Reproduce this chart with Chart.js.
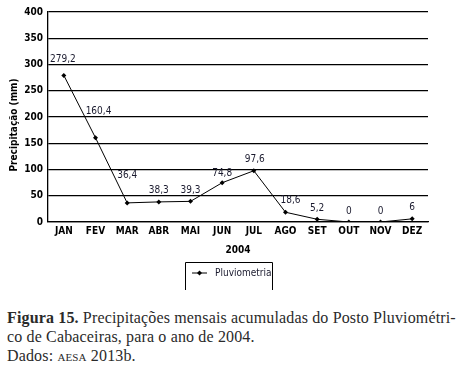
<!DOCTYPE html>
<html><head><meta charset="utf-8">
<script src="https://cdn.jsdelivr.net/npm/chart.js@4"></script>
<style>
html,body{margin:0;padding:0;background:#fff;width:462px;height:370px;overflow:hidden}
#wrap{position:absolute;left:0;top:0;width:462px;height:290px}
.cap{position:absolute;left:7px;font-family:"Liberation Serif","DejaVu Serif",serif;font-size:16px;letter-spacing:0.15px;color:#2a2a2a;white-space:nowrap;line-height:19px}
</style></head><body>
<div id="wrap"><canvas id="c" width="462" height="290"></canvas></div>
<div class="cap" style="top:308px"><b>Figura 15.</b> Precipitações mensais acumuladas do Posto Pluviométri-</div>
<div class="cap" style="top:327px">co de Cabaceiras, para o ano de 2004.</div>
<div class="cap" style="top:346px">Dados: <span style="font-variant:small-caps">aesa</span> 2013b.</div>
<script>
const categories = ["JAN","FEV","MAR","ABR","MAI","JUN","JUL","AGO","SET","OUT","NOV","DEZ"];
const pluviometria = [279.2,160.4,36.4,38.3,39.3,74.8,97.6,18.6,5.2,0,0,6];
const valueLabels = ["279,2","160,4","36,4","38,3","39,3","74,8","97,6","18,6","5,2","0","0","6"];
const seriesName = "Pluviometria";
const xTitle = "2004";
const yTitle = "Precipitação (mm)";

const FONT = '"Liberation Sans Narrow","DejaVu Sans Condensed",sans-serif';
// label layout offsets (dx, dy) relative to each point, to keep labels off the line
const labelShift = [[-1,-16],[3,-26],[0,-27],[0,-11],[0,-11],[0,-9],[1,-11],[5,-12],[0,-11],[0,-11],[0,-11],[0,-11]];

const extras = {
  id:'extras',
  afterDatasetsDraw(chart){
    const ctx = chart.ctx;
    const meta = chart.getDatasetMeta(0);
    ctx.save();
    ctx.fillStyle = '#1a1a2e';
    ctx.font = '10px ' + FONT;
    ctx.textAlign = 'center';
    ctx.textBaseline = 'middle';
    meta.data.forEach((p,i)=>{
      ctx.fillText(valueLabels[i], p.x + labelShift[i][0], p.y + labelShift[i][1]);
    });
    // x title
    ctx.fillStyle = '#000';
    ctx.font = 'bold 10px ' + FONT;
    ctx.fillText(xTitle, (chart.chartArea.left + chart.chartArea.right)/2, 250);
    // y title
    ctx.save();
    ctx.translate(14, 125);
    ctx.rotate(-Math.PI/2);
    ctx.font = 'bold 10px ' + FONT;
    ctx.fillText(yTitle, 0, 0);
    ctx.restore();
    // legend box (bottom edge cropped in reference)
    ctx.strokeStyle = '#000';
    ctx.lineWidth = 1;
    ctx.beginPath();
    ctx.moveTo(185.5, 292); ctx.lineTo(185.5, 262.5); ctx.lineTo(272.5, 262.5); ctx.lineTo(272.5, 292);
    ctx.stroke();
    ctx.beginPath();
    ctx.moveTo(192, 273); ctx.lineTo(207, 273); ctx.stroke();
    ctx.beginPath();
    ctx.moveTo(199.5, 270.5); ctx.lineTo(202, 273); ctx.lineTo(199.5, 275.5); ctx.lineTo(197, 273); ctx.closePath();
    ctx.fillStyle = '#000'; ctx.fill();
    ctx.fillStyle = '#1a1a2e';
    ctx.font = '10px ' + FONT;
    ctx.textAlign = 'left';
    ctx.fillText(seriesName, 215, 273);
    ctx.restore();
  }
};

new Chart(document.getElementById('c'), {
  type:'line',
  data:{labels:categories, datasets:[{
    label:seriesName, data:pluviometria,
    borderColor:'#000', borderWidth:1, backgroundColor:'#000',
    pointStyle:'rectRot', pointRadius:2.5, pointBorderWidth:0, tension:0
  }]},
  options:{
    responsive:false, animation:false,
    layout:{padding:{top:12,right:34,left:0,bottom:0}},
    plugins:{legend:{display:false}, tooltip:{enabled:false}},
    scales:{
      x:{
        offset:true,
        grid:{display:false, drawTicks:false},
        border:{color:'#000', width:1.3},
        ticks:{color:'#000', font:{family:FONT, size:10, weight:'bold'}, padding:3, maxRotation:0, autoSkip:false},
        afterFit(s){ s.height = 68; }
      },
      y:{
        min:0, max:400,
        grid:{color:'#000', lineWidth:1.3, drawTicks:false},
        border:{color:'#000', width:1.3},
        ticks:{stepSize:50, color:'#000', font:{family:FONT, size:10, weight:'bold'}, padding:5},
        afterFit(s){ s.width = 48; }
      }
    }
  },
  plugins:[extras]
});
</script>
</body></html>
